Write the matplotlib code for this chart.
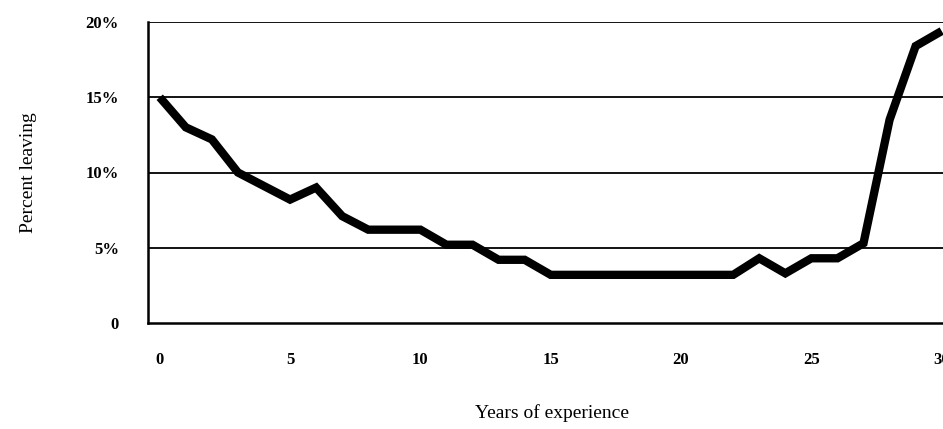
import matplotlib
matplotlib.use("Agg")
import matplotlib.pyplot as plt

# data
years = list(range(0, 31))
pct_leaving = [15.0, 13.0, 12.2, 10.0, 9.1, 8.2, 9.0, 7.1, 6.2, 6.2,
               6.2, 5.2, 5.2, 4.2, 4.2, 3.2, 3.2, 3.2, 3.2, 3.2,
               3.2, 3.2, 3.2, 4.3, 3.3, 4.3, 4.3, 5.3, 13.5, 18.4,
               19.4]
y_ticks = [0, 5, 10, 15, 20]
y_ticklabels = ["0", "5%", "10%", "15%", "20%"]
x_ticks = [0, 5, 10, 15, 20, 25, 30]

tick_font = ["Liberation Serif", "DejaVu Serif"]
label_font = ["Liberation Serif", "DejaVu Serif"]

fig = plt.figure(figsize=(9.43, 4.29), dpi=100)
ax = fig.add_axes([148 / 943, 1 - 323 / 429, 1 - 148 / 943, (323 - 22) / 429])

ax.plot(years, pct_leaving, color="black", linewidth=6, solid_joinstyle="miter",
        solid_capstyle="butt", zorder=3)

# gridlines
for v in y_ticks[1:]:
    ax.axhline(v, color="black", linewidth=1.3, zorder=1)

ax.set_xlim(-0.45, 30.05)
ax.set_ylim(0, 20)

for side in ["top", "right"]:
    ax.spines[side].set_visible(False)
ax.spines["left"].set_linewidth(1.8)
ax.spines["bottom"].set_linewidth(1.8)

ax.set_yticks(y_ticks)
ax.set_yticklabels(y_ticklabels, family=tick_font, fontweight="bold", fontsize=12)
ax.set_xticks(x_ticks)
ax.set_xticklabels([str(t) for t in x_ticks], family=tick_font, fontweight="bold",
                   fontsize=12)
ax.tick_params(axis="y", length=0, pad=21)
ax.tick_params(axis="x", length=0, pad=21)

ax.set_ylabel("Percent leaving", family=label_font, fontsize=14)
ax.yaxis.set_label_coords(-0.14, 0.5)
ax.set_xlabel("Years of experience", family=label_font, fontsize=14)
ax.xaxis.set_label_coords(0.508, -0.27)

fig.savefig("out.png", dpi=100)
